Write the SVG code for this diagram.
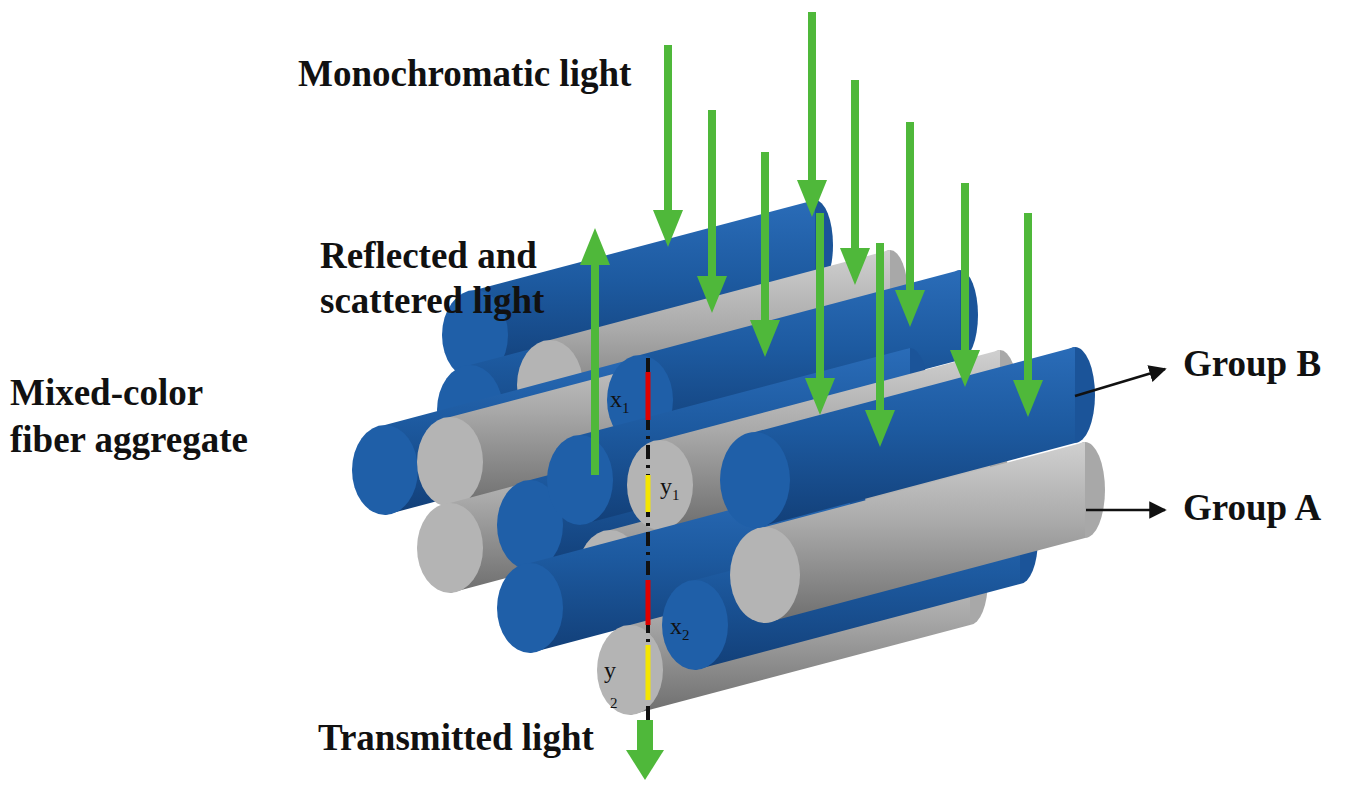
<svg xmlns="http://www.w3.org/2000/svg" width="1356" height="794" viewBox="0 0 1356 794">
<style>
.lbl{font-family:"Liberation Serif","DejaVu Serif",serif;font-weight:bold;font-size:37px;fill:#111}
.sm{font-family:"Liberation Serif","DejaVu Serif",serif;font-size:24px;fill:#111}
.sub{font-size:15px}
.ga{stroke:#4fb83a;stroke-width:8;fill:none}
.gh{fill:#4fb83a}
.bf{fill:#1f5fa8}.bc{fill:#1b5499}
.gf{fill:#b4b4b4}.gc{fill:#a8a8a8}
</style>
<defs>
<linearGradient id="bb" x1="0" y1="0" x2="0" y2="1"><stop offset="0" stop-color="#2a6cb8"/><stop offset="0.45" stop-color="#1d5aa0"/><stop offset="1" stop-color="#123f78"/></linearGradient>
<linearGradient id="gb" x1="0" y1="0" x2="0" y2="1"><stop offset="0" stop-color="#d0d0d0"/><stop offset="0.45" stop-color="#a9a9a9"/><stop offset="1" stop-color="#6e6e6e"/></linearGradient>
<marker id="ah" viewBox="0 0 10 10" refX="9" refY="5" markerWidth="7" markerHeight="7" orient="auto"><path d="M0,0 L10,5 L0,10 z" fill="#111"/></marker>
</defs>
<rect width="1356" height="794" fill="#fff"/>
<g id="cylinders">
<g id="c1"><ellipse cx="815" cy="245" rx="18" ry="45" class="bc"/><polygon points="475,290 815,200 815,290 475,380" fill="url(#bb)"/><ellipse cx="475" cy="335" rx="33" ry="45" class="bf"/></g>
<g id="c2"><ellipse cx="800" cy="323" rx="18" ry="45" class="bc"/><polygon points="470,365 800,278 800,368 470,455" fill="url(#bb)"/><ellipse cx="470" cy="410" rx="33" ry="45" class="bf"/></g>
<g id="c3"><ellipse cx="890" cy="295" rx="18" ry="45" class="gc"/><polygon points="550,340 890,250 890,340 550,430" fill="url(#gb)"/><ellipse cx="550" cy="385" rx="33" ry="45" class="gf"/></g>
<g id="c5"><ellipse cx="685" cy="390" rx="18" ry="45" class="bc"/><polygon points="385,425 685,345 685,435 385,515" fill="url(#bb)"/><ellipse cx="385" cy="470" rx="33" ry="45" class="bf"/></g>
<g id="c6"><ellipse cx="780" cy="375" rx="18" ry="45" class="gc"/><polygon points="450,417 780,330 780,420 450,507" fill="url(#gb)"/><ellipse cx="450" cy="462" rx="33" ry="45" class="gf"/></g>
<g id="c4"><ellipse cx="960" cy="315" rx="18" ry="45" class="bc"/><polygon points="640,355 960,270 960,360 640,445" fill="url(#bb)"/><ellipse cx="640" cy="400" rx="33" ry="45" class="bf"/></g>
<g id="c9"><ellipse cx="750" cy="468" rx="18" ry="45" class="gc"/><polygon points="450,503 750,423 750,513 450,593" fill="url(#gb)"/><ellipse cx="450" cy="548" rx="33" ry="45" class="gf"/></g>
<g id="c10"><ellipse cx="850" cy="440" rx="18" ry="45" class="bc"/><polygon points="530,480 850,395 850,485 530,570" fill="url(#bb)"/><ellipse cx="530" cy="525" rx="33" ry="45" class="bf"/></g>
<g id="c7"><ellipse cx="910" cy="393" rx="18" ry="45" class="bc"/><polygon points="580,435 910,348 910,438 580,525" fill="url(#bb)"/><ellipse cx="580" cy="480" rx="33" ry="45" class="bf"/></g>
<g id="c11"><ellipse cx="990" cy="474" rx="18" ry="45" class="gc"/><polygon points="610,530 990,429 990,519 610,620" fill="url(#gb)"/><ellipse cx="610" cy="575" rx="33" ry="45" class="gf"/></g>
<g id="c8"><ellipse cx="1000" cy="395" rx="18" ry="45" class="gc"/><polygon points="660,440 1000,350 1000,440 660,530" fill="url(#gb)"/><ellipse cx="660" cy="485" rx="33" ry="45" class="gf"/></g>
<g id="c13"><ellipse cx="850" cy="523" rx="18" ry="45" class="bc"/><polygon points="530,563 850,478 850,568 530,653" fill="url(#bb)"/><ellipse cx="530" cy="608" rx="33" ry="45" class="bf"/></g>
<g id="c16"><ellipse cx="970" cy="580" rx="18" ry="45" class="gc"/><polygon points="630,625 970,535 970,625 630,715" fill="url(#gb)"/><ellipse cx="630" cy="670" rx="33" ry="45" class="gf"/></g>
<g id="c15"><ellipse cx="1020" cy="539" rx="18" ry="45" class="bc"/><polygon points="695,580 1020,494 1020,584 695,670" fill="url(#bb)"/><ellipse cx="695" cy="625" rx="33" ry="45" class="bf"/></g>
<g id="c14"><ellipse cx="1085" cy="490" rx="20" ry="48" class="gc"/><polygon points="765,527 1085,442 1085,538 765,623" fill="url(#gb)"/><ellipse cx="765" cy="575" rx="35" ry="48" class="gf"/></g>
<g id="c12"><ellipse cx="1075" cy="395" rx="20" ry="48" class="bc"/><polygon points="755,432 1075,347 1075,443 755,528" fill="url(#bb)"/><ellipse cx="755" cy="480" rx="35" ry="48" class="bf"/></g>
</g>
<g id="markers">
<line x1="648" y1="358" x2="648" y2="722" stroke="#111" stroke-width="4" stroke-dasharray="14,6,3,6"/>
<line x1="648" y1="372" x2="648" y2="420" stroke="#e00000" stroke-width="5"/>
<line x1="648" y1="580" x2="648" y2="625" stroke="#e00000" stroke-width="5"/>
<line x1="648" y1="475" x2="648" y2="512" stroke="#f5e600" stroke-width="5"/>
<line x1="648" y1="645" x2="648" y2="700" stroke="#f5e600" stroke-width="5"/>
<text class="sm" x="610" y="407">x<tspan class="sub" dy="6">1</tspan></text>
<text class="sm" x="660" y="494">y<tspan class="sub" dy="6">1</tspan></text>
<text class="sm" x="670" y="634">x<tspan class="sub" dy="6">2</tspan></text>
<text class="sm" x="604" y="678">y</text>
<text class="sm" x="610" y="708" style="font-size:15px">2</text>
</g>
<g id="connectors">
<g class="ga">
<line x1="668" y1="45" x2="668" y2="212"/><line x1="712" y1="110" x2="712" y2="278"/><line x1="765" y1="152" x2="765" y2="322"/><line x1="812" y1="12" x2="812" y2="182"/><line x1="820" y1="213" x2="820" y2="380"/><line x1="855" y1="80" x2="855" y2="250"/><line x1="880" y1="243" x2="880" y2="412"/><line x1="910" y1="122" x2="910" y2="292"/><line x1="965" y1="183" x2="965" y2="352"/><line x1="1028" y1="213" x2="1028" y2="382"/>
<line x1="595" y1="475" x2="595" y2="262"/>
<line x1="645" y1="720" x2="645" y2="752" style="stroke-width:16"/>
</g>
<g class="gh">
<polygon points="653,210 683,210 668,247"/><polygon points="697,276 727,276 712,313"/><polygon points="750,320 780,320 765,357"/><polygon points="797,180 827,180 812,217"/><polygon points="805,378 835,378 820,415"/><polygon points="840,248 870,248 855,285"/><polygon points="865,410 895,410 880,447"/><polygon points="895,290 925,290 910,327"/><polygon points="950,350 980,350 965,387"/><polygon points="1013,380 1043,380 1028,417"/>
<polygon points="580,265 610,265 595,228"/>
<polygon points="626,750 664,750 645,780"/>
</g>
<line x1="1075" y1="396" x2="1165" y2="369" stroke="#111" stroke-width="2.5" marker-end="url(#ah)"/>
<line x1="1086" y1="510" x2="1165" y2="510" stroke="#111" stroke-width="2.5" marker-end="url(#ah)"/>
</g>
<g id="labels">
<text class="lbl" x="298" y="86">Monochromatic light</text>
<text class="lbl" x="320" y="268">Reflected  and</text>
<text class="lbl" x="320" y="313">scattered light</text>
<text class="lbl" x="10" y="405">Mixed-color</text>
<text class="lbl" x="10" y="452">fiber aggregate</text>
<text class="lbl" x="1183" y="376">Group  B</text>
<text class="lbl" x="1183" y="520">Group   A</text>
<text class="lbl" x="318" y="750">Transmitted light</text>
</g>
</svg>
